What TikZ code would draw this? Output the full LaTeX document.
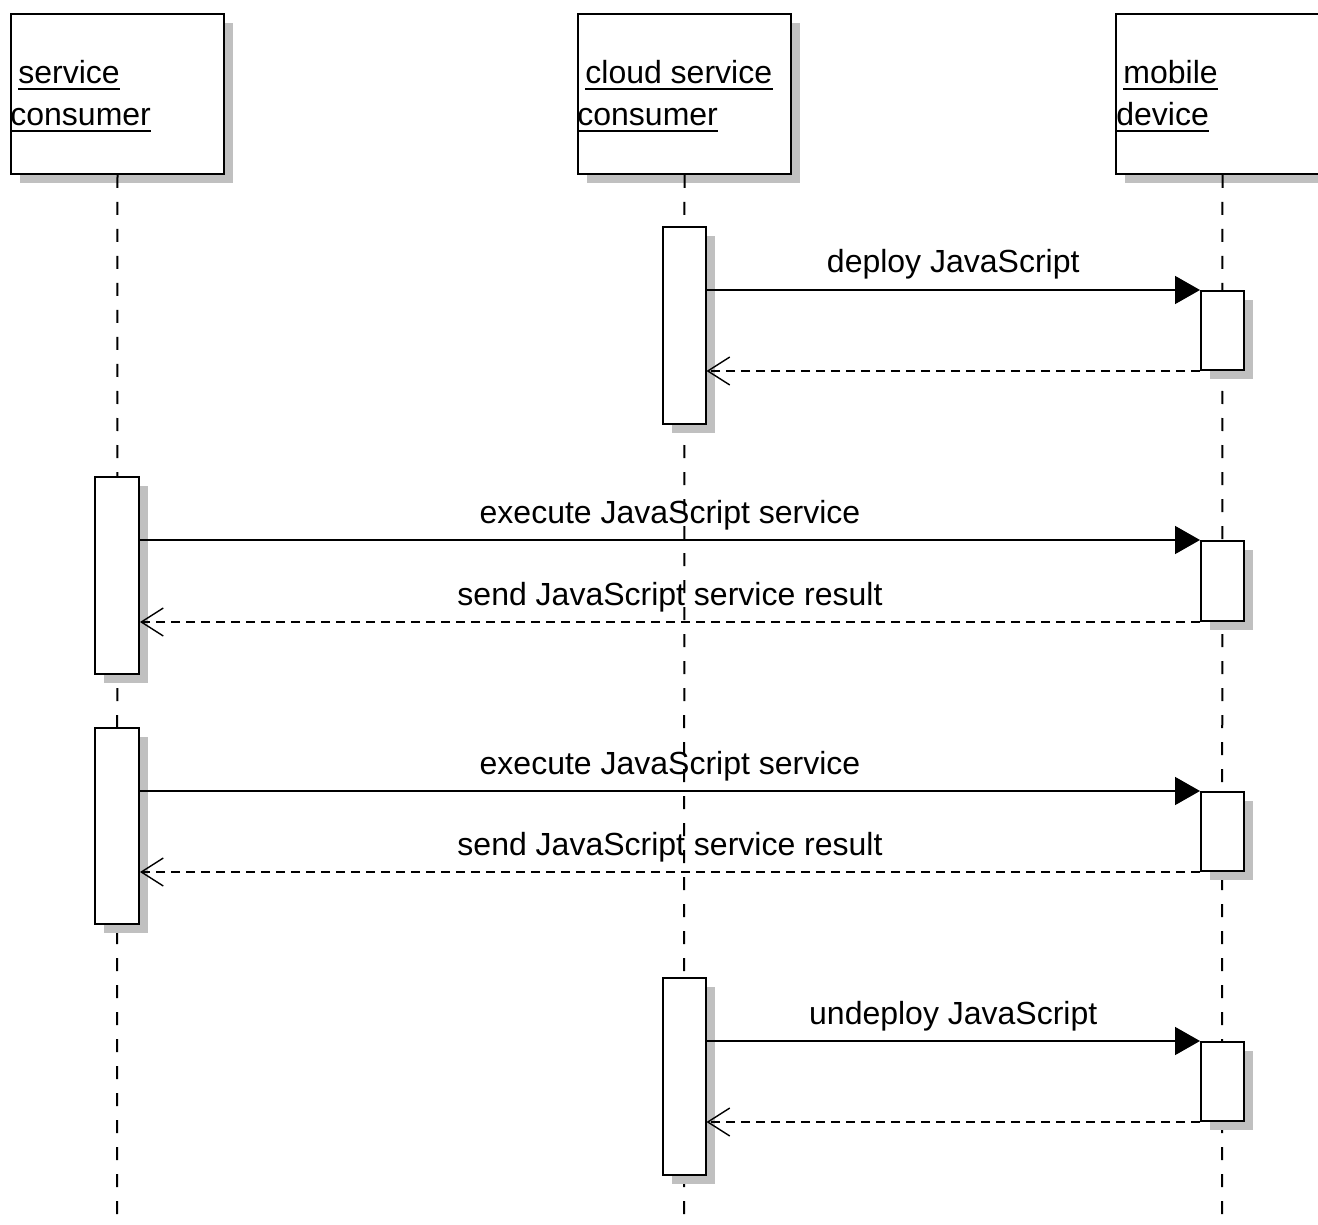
\documentclass[tikz,border=0pt]{standalone}
\usepackage{fontspec}
\setmainfont{Liberation Sans}
\usetikzlibrary{arrows.meta,shadows}
\definecolor{shadowgray}{RGB}{192,192,192}
\tikzset{
  sh/.style={drop shadow={shadow xshift=4.5pt,shadow yshift=-4.5pt,fill=shadowgray,opacity=1}},
  headbox/.style={draw,fill=white,line width=1pt,sh,minimum width=106.5pt,minimum height=80pt,inner sep=0pt,anchor=north west},
  actbox/.style={draw,fill=white,line width=1pt,sh,minimum width=21.5pt,inner sep=0pt,anchor=north},
  lifeline/.style={line width=1pt,dash pattern=on 6.5pt off 7pt},
  callmsg/.style={line width=0.8pt,-{Triangle[length=12.5pt,width=14pt]}},
  replymsg/.style={line width=0.8pt,dash pattern=on 4.5pt off 3pt,-{Straight Barb[length=11pt,width=14pt,line width=0.7pt]}},
  lbl/.style={font=\fontsize{16pt}{19pt}\selectfont,inner sep=0pt,anchor=base,yshift=8.5pt},
  htxt/.style={font=\fontsize{16pt}{19pt}\selectfont,inner sep=0pt,anchor=base west},
  uline/.style={line width=1pt}
}
\begin{document}
\begin{tikzpicture}[x=0.5pt,y=-0.5pt]
\useasboundingbox (0,0) rectangle (1318,1225);
\clip (0,0) rectangle (1318,1225);
% header boxes
\node[headbox] (h1) at (10,13) {};
\node[headbox] (h2) at (577,13) {};
\node[headbox] (h3) at (1115,13) {};
% header texts
\node[htxt] (t1a) at (18,84) {service};
\node[htxt] (t1b) at (10,126) {consumer};
\node[htxt] (t2a) at (585,84) {cloud service};
\node[htxt] (t2b) at (577,126) {consumer};
\node[htxt] (t3a) at (1123,84) {mobile};
\node[htxt] (t3b) at (1116,126) {device};
\foreach \t in {t1a,t1b,t2a,t2b,t3a,t3b}{
  \draw[uline] ([yshift=-2.5pt]\t.base west) -- ([yshift=-2.5pt]\t.base east);
}
% lifeline ends
\coordinate (e1) at (117,1225);
\coordinate (e2) at (684,1225);
\coordinate (e3) at (1222,1225);
% labels (drawn before lifelines)
% activation boxes defined later; lifelines
\draw[lifeline] (h1.south) -- (e1);
\draw[lifeline] (h2.south) -- (e2);
\draw[lifeline] (h3.south) -- (e3);
% activation boxes
\node[actbox,minimum height=98.5pt] (a1) at (684,226) {};
\node[actbox,minimum height=39.5pt] (m1) at (1222.5,290) {};
\node[actbox,minimum height=98.5pt,minimum width=22pt] (s1) at (117,476) {};
\node[actbox,minimum height=40pt] (m2) at (1222.5,540) {};
\node[actbox,minimum height=98pt,minimum width=22pt] (s2) at (117,727) {};
\node[actbox,minimum height=39.5pt] (m3) at (1222.5,791) {};
\node[actbox,minimum height=98.5pt] (a2) at (684,977) {};
\node[actbox,minimum height=39.5pt] (m4) at (1222.5,1041) {};
% messages
\draw[callmsg] (a1.east |- m1.north west) -- node[lbl] {deploy JavaScript} (m1.north west);
\draw[replymsg] (m1.south west) -- (a1.east |- m1.south west);
\draw[callmsg] (s1.east |- m2.north west) -- node[lbl] {execute JavaScript service} (m2.north west);
\draw[replymsg] (m2.south west) -- node[lbl] {send JavaScript service result} (s1.east |- m2.south west);
\draw[callmsg] (s2.east |- m3.north west) -- node[lbl] {execute JavaScript service} (m3.north west);
\draw[replymsg] (m3.south west) -- node[lbl] {send JavaScript service result} (s2.east |- m3.south west);
\draw[callmsg] (a2.east |- m4.north west) -- node[lbl] {undeploy JavaScript} (m4.north west);
\draw[replymsg] (m4.south west) -- (a2.east |- m4.south west);
\end{tikzpicture}
\end{document}
